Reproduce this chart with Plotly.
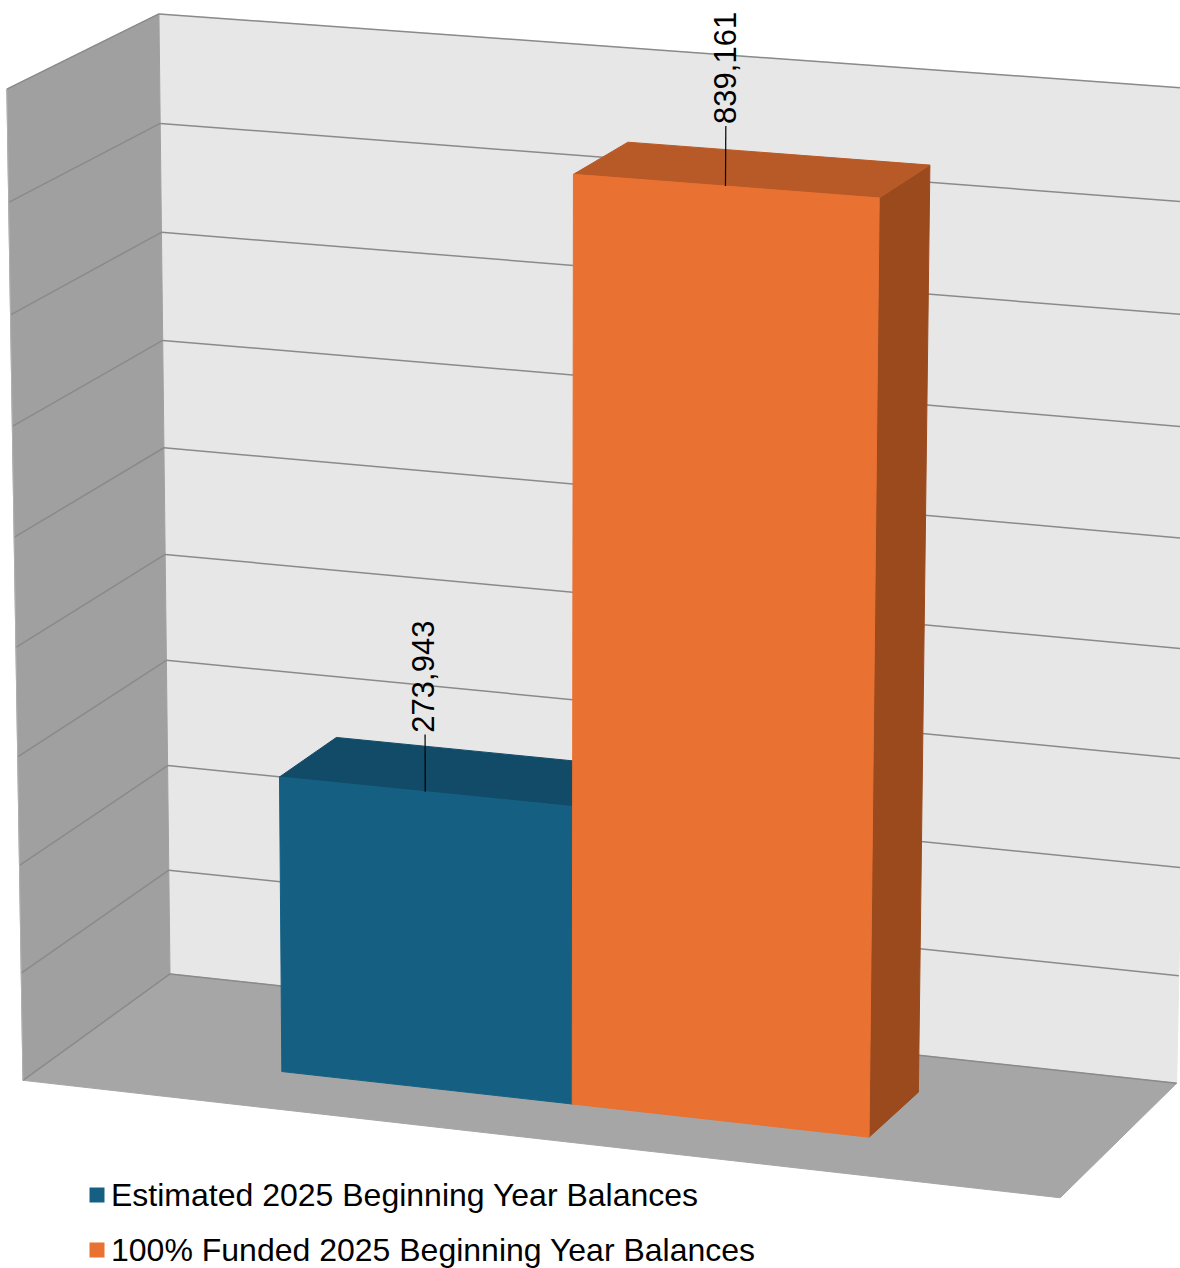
import numpy as np
import plotly.graph_objects as go

# ---------------- data ----------------
series_names = ["Estimated 2025 Beginning Year Balances",
                "100% Funded 2025 Beginning Year Balances"]
values = [273943, 839161]
label_texts = ["273,943", "839,161"]
axis_max = 900000
axis_step = 100000

# ---------------- style ----------------
front_colors = ["#156082", "#E97132"]
top_colors = ["#114B67", "#B85A28"]
side_colors = ["#0E4058", "#9B4A1E"]
back_wall_color = "#E7E7E7"
side_wall_color = "#A0A0A0"
floor_color = "#A6A6A6"
grid_color = "#8A8A8A"
FONT = "Liberation Sans, Arial, sans-serif"
W, H = 1180, 1268

gap_width = 1.5   # 150 %
gap_depth = 1.5   # 150 %

# legend layout (pixels)
legend_marker_x = 97
legend_text_x = 109
legend_rows_y = [1195, 1250]

# ---------------- camera calibration (frame of the 3-D box) ----------------
# world: (x across, d depth 0=front 1=back, z normalised 0..1)
back_left_y = [972.5, 871, 766, 660, 555, 448, 341, 233, 123, 13]
front_left_y = [1081, 973, 865, 757, 647, 537, 426, 315, 203, 89]
calib_world, calib_pix = [], []
n_lv = len(back_left_y)
for k in range(n_lv):
    z = k / (n_lv - 1)
    calib_world.append((0, 1, z)); calib_pix.append((170 - 11 * z, back_left_y[k]))
    calib_world.append((0, 0, z)); calib_pix.append((23 - 16 * z, front_left_y[k]))
calib_world += [(1, 1, 0), (1, 1, 1), (1, 0, 0)]
calib_pix += [(1177, 1083), (1197, 89), (1060, 1198)]


def _hom(a):
    return np.hstack([a, np.ones((a.shape[0], 1))])


def fit_projection(world_pts, pix_pts):
    Xw = np.array(world_pts, float)
    U = np.array(pix_pts, float)
    mu_u = U.mean(0)
    s_u = np.sqrt(2) / np.mean(np.linalg.norm(U - mu_u, axis=1))
    T = np.array([[s_u, 0, -s_u * mu_u[0]], [0, s_u, -s_u * mu_u[1]], [0, 0, 1]])
    mu_x = Xw.mean(0)
    s_x = np.sqrt(3) / np.mean(np.linalg.norm(Xw - mu_x, axis=1))
    S = np.eye(4) * s_x
    S[3, 3] = 1
    S[:3, 3] = -s_x * mu_x
    Un = (T @ _hom(U).T).T
    Xn = (S @ _hom(Xw).T).T
    rows = []
    for Xh, uh in zip(Xn, Un):
        u, v = uh[0] / uh[2], uh[1] / uh[2]
        rows.append(np.concatenate([Xh, np.zeros(4), -u * Xh]))
        rows.append(np.concatenate([np.zeros(4), Xh, -v * Xh]))
    _, _, vt = np.linalg.svd(np.array(rows))
    Pn = vt[-1].reshape(3, 4)
    Pm = np.linalg.inv(T) @ Pn @ S

    Xh = _hom(Xw)

    def resid(p):
        M = p.reshape(3, 4)
        h = Xh @ M.T
        return np.concatenate([h[:, 0] / h[:, 2] - U[:, 0], h[:, 1] / h[:, 2] - U[:, 1]])

    p = Pm.ravel() / np.linalg.norm(Pm)
    r = resid(p)
    cost = r @ r
    lam = 1e-3
    for _ in range(300):
        J = np.empty((len(r), 12))
        for j in range(12):
            e = 1e-8 * max(1e-3, abs(p[j])) + 1e-12
            dp = np.zeros(12)
            dp[j] = e
            J[:, j] = (resid(p + dp) - r) / e
        A = J.T @ J
        g = J.T @ r
        try:
            step = np.linalg.solve(A + lam * np.diag(np.diag(A) + 1e-18), -g)
        except np.linalg.LinAlgError:
            lam *= 10
            continue
        pn = p + step
        pn /= np.linalg.norm(pn)
        rn = resid(pn)
        cn = rn @ rn
        if cn < cost:
            p, r, cost = pn, rn, cn
            lam = max(lam * 0.3, 1e-12)
        else:
            lam *= 10
            if lam > 1e12:
                break
    return p.reshape(3, 4)


P = fit_projection(calib_world, calib_pix)


def proj(x, d, z):
    h = P @ np.array([x, d, z, 1.0])
    return h[0] / h[2], h[1] / h[2]


def poly_trace(pts3d, fill, line_color=None, lw=1):
    xs, ys = [], []
    for p in pts3d:
        u, v = proj(*p)
        xs.append(u); ys.append(v)
    xs.append(xs[0]); ys.append(ys[0])
    return go.Scatter(x=xs, y=ys, mode="lines", fill="toself", fillcolor=fill,
                      line=dict(color=line_color or fill, width=lw),
                      hoverinfo="skip", showlegend=False)


def line_trace(p1, p2, color, width=1.5):
    u1, v1 = proj(*p1)
    u2, v2 = proj(*p2)
    return go.Scatter(x=[u1, u2], y=[v1, v2], mode="lines",
                      line=dict(color=color, width=width),
                      hoverinfo="skip", showlegend=False)


fig = go.Figure()

# walls and floor
fig.add_trace(poly_trace([(0, 1, 0), (1, 1, 0), (1, 1, 1), (0, 1, 1)], back_wall_color))
fig.add_trace(poly_trace([(0, 0, 0), (0, 1, 0), (0, 1, 1), (0, 0, 1)], side_wall_color))
fig.add_trace(poly_trace([(0, 0, 0), (1, 0, 0), (1, 1, 0), (0, 1, 0)], floor_color))

# gridlines
ticks = np.arange(0, axis_max + axis_step / 2, axis_step)
for t in ticks:
    z = t / axis_max
    fig.add_trace(line_trace((0, 1, z), (1, 1, z), grid_color))
    fig.add_trace(line_trace((0, 0, z), (0, 1, z), grid_color))
fig.add_trace(line_trace((0, 0, 0), (0, 0, 1), "#B0B0B0", 1))

# bars
n = len(values)
bw = 1.0 / (n + gap_width)
x0 = gap_width / 2 * bw
bd = 1.0 / (1 + gap_depth)
df = (1 - bd) / 2
db = df + bd
annotations = []
for i, val in enumerate(values):
    xa = x0 + i * bw
    xb = xa + bw
    h = val / axis_max
    fig.add_trace(poly_trace([(xb, df, 0), (xb, db, 0), (xb, db, h), (xb, df, h)], side_colors[i]))
    fig.add_trace(poly_trace([(xa, df, h), (xb, df, h), (xb, db, h), (xa, db, h)], top_colors[i]))
    fig.add_trace(poly_trace([(xa, df, 0), (xb, df, 0), (xb, df, h), (xa, df, h)], front_colors[i]))
    xm = (xa + xb) / 2
    fig.add_trace(line_trace((xm, df, h), (xm, df, h + 0.058), "#000000", 1.2))
    ux, uy = proj(xm, df, h + 0.058)
    annotations.append(dict(x=ux, y=uy, xref="x", yref="y", text=label_texts[i],
                            textangle=-90, showarrow=False, yshift=58, xshift=-1,
                            font=dict(family=FONT, size=31, color="#000000")))

# legend (drawn as key markers + text)
for i, name in enumerate(series_names):
    fig.add_trace(go.Scatter(x=[legend_marker_x], y=[legend_rows_y[i]], mode="markers",
                             name=name, showlegend=False, hoverinfo="skip",
                             marker=dict(symbol="square", size=15, color=front_colors[i])))
    annotations.append(dict(x=legend_text_x, y=legend_rows_y[i], xref="x", yref="y",
                            text=name, showarrow=False, xanchor="left", yanchor="middle",
                            font=dict(family=FONT, size=32, color="#000000")))

fig.update_layout(
    width=W, height=H, autosize=False,
    margin=dict(l=0, r=0, t=0, b=0, autoexpand=False),
    paper_bgcolor="white", plot_bgcolor="white",
    xaxis=dict(range=[0, W], visible=False, fixedrange=True),
    yaxis=dict(range=[H, 0], visible=False, fixedrange=True),
    showlegend=False,
    annotations=annotations,
)

fig.write_html("out.html")
